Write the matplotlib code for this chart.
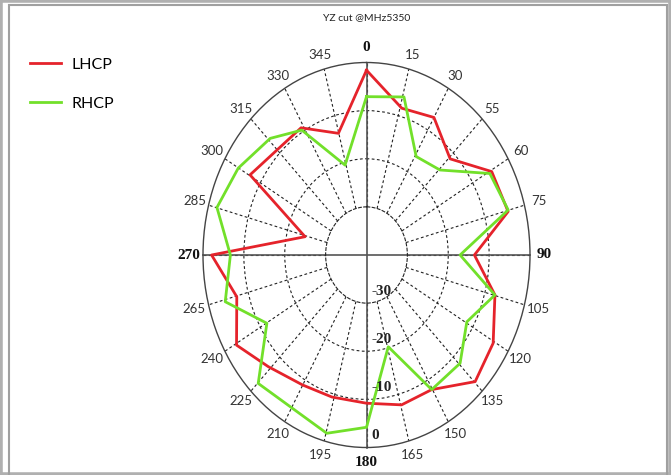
import numpy as np
import matplotlib
matplotlib.use('Agg')
import matplotlib.pyplot as plt
from matplotlib.lines import Line2D
from matplotlib.patches import Rectangle
from matplotlib.transforms import offset_copy

title = 'YZ cut @MHz5350'
series_names = ['LHCP', 'RHCP']
series_colors = ['#e5232b', '#72e02a']

lhcp_deg = [0, 15.8, 30, 45.7, 60.5, 75.4, 90, 104.8, 120.6, 134.7, 150.3, 164.6,
            180, 196, 210, 226, 239.5, 254.7, 270, 284.2, 300.3, 328.8, 344.8]
lhcp_db = [-1.6, -8.3, -7.0, -11.4, -4.8, -4.2, -13.6, -7.5, -4.0, -2.6, -7.8, -7.7,
           -9.2, -9.3, -8.8, -6.6, -3.1, -7.1, -2.1, -24.5, -7.0, -9.1, -13.8]

rhcp_deg = [0, 15.6, 30.7, 45.5, 60.7, 74.9, 90, 104.8, 119.5, 134.5, 150.3, 164.4,
            180, 194.7, 224.8, 239.8, 254.3, 270, 285.1, 299.9, 315.8, 328.6, 344.3]
rhcp_db = [-7.1, -5.9, -16.2, -14.8, -5.4, -4.1, -17.1, -7.5, -11.8, -7.9, -7.8, -20.2,
           -4.2, -1.7, -2.4, -11.8, -4.1, -6.7, -2.1, -3.8, -6.2, -9.6, -20.6]

theta_ticks = list(range(0, 360, 15))
theta_labels = ['0', '15', '30', '55', '60', '75', '90', '105', '120', '135', '150', '165',
                '180', '195', '210', '225', '240', '265', '270', '285', '300', '315', '330', '345']
bold_labels = ['0', '90', '180', '270']
r_ticks = [-30, -20, -10, 0]
r_labels = ['-30', '-20', '-10', '0']

W, H = 671, 475
fig = plt.figure(figsize=(W / 100, H / 100), dpi=100)
fig.patch.set_facecolor('white')

ax = fig.add_axes([203 / W, (H - 447.5) / H, 327 / W, 385 / H], projection='polar')
ax.set_aspect('auto')
ax.set_theta_zero_location('N')
ax.set_theta_direction(-1)
ax.set_ylim(-30, 0)
ax.set_rorigin(-40)

handles = []
for deg, db, name, col in [(lhcp_deg, lhcp_db, series_names[0], series_colors[0]),
                           (rhcp_deg, rhcp_db, series_names[1], series_colors[1])]:
    th = np.deg2rad(list(deg) + [deg[0]])
    rr = list(db) + [db[0]]
    ln, = ax.plot(th, rr, color=col, lw=2.0, label=name, zorder=3, clip_on=False)
    handles.append(ln)

ax.set_thetagrids(theta_ticks, theta_labels)
ax.set_rgrids([-20, -10], labels=['', ''])
ax.grid(True, linestyle=(0, (2.5, 2.2)), color='#222222', lw=0.8)
ax.spines['polar'].set_color('#444444')
ax.spines['polar'].set_linewidth(1.0)
ax.spines['inner'].set_linestyle((0, (2.5, 2.2)))
ax.spines['inner'].set_color('#222222')
ax.spines['inner'].set_linewidth(0.8)
ax.tick_params(axis='x', pad=0)

for t in ax.get_xticklabels():
    if t.get_text() in bold_labels:
        t.set_fontfamily('Liberation Serif')
        t.set_fontweight('bold')
        t.set_fontsize(11)
        t.set_color('#111111')
    else:
        t.set_fontfamily('Lato')
        t.set_fontsize(9.5)
        t.set_color('#333333')

# solid cross axes
ax.add_line(Line2D([0.5, 0.5], [0, 1], transform=ax.transAxes, color='#555555', lw=1.2,
                   clip_on=False, zorder=2))
ax.add_line(Line2D([0, 1], [0.5, 0.5], transform=ax.transAxes, color='#555555', lw=1.2,
                   clip_on=False, zorder=2))

# radial labels along the 180 direction
tr = offset_copy(ax.transData, fig=fig, x=5, y=12, units='dots')
for r, lab in zip(r_ticks, r_labels):
    ax.text(np.pi, r, lab, transform=tr, ha='left', va='center', fontsize=11,
            fontweight='bold', family='Liberation Serif', color='#222222', clip_on=False)

fig.text(367 / W, 1 - 18 / H, title, ha='center', va='center', fontsize=7.5,
         family='Lato', color='#222222')

fig.legend(handles=handles, loc='upper left', bbox_to_anchor=(24 / W, 1 - 51 / H),
           frameon=False, prop={'family': 'Lato', 'size': 11.5}, handlelength=1.9,
           handletextpad=0.7, labelspacing=1.55, borderaxespad=0)

# frame
fig.add_artist(Rectangle((0, 0), 1, 1, transform=fig.transFigure, fill=False,
                         ec='#b0b0b0', lw=4))
fig.add_artist(Rectangle((9 / W, -0.01), (W - 13) / W, (H - 5) / H + 0.01,
                         transform=fig.transFigure, fill=False, ec='#a0a0a0', lw=1.5))

fig.savefig('out.png', dpi=100)
